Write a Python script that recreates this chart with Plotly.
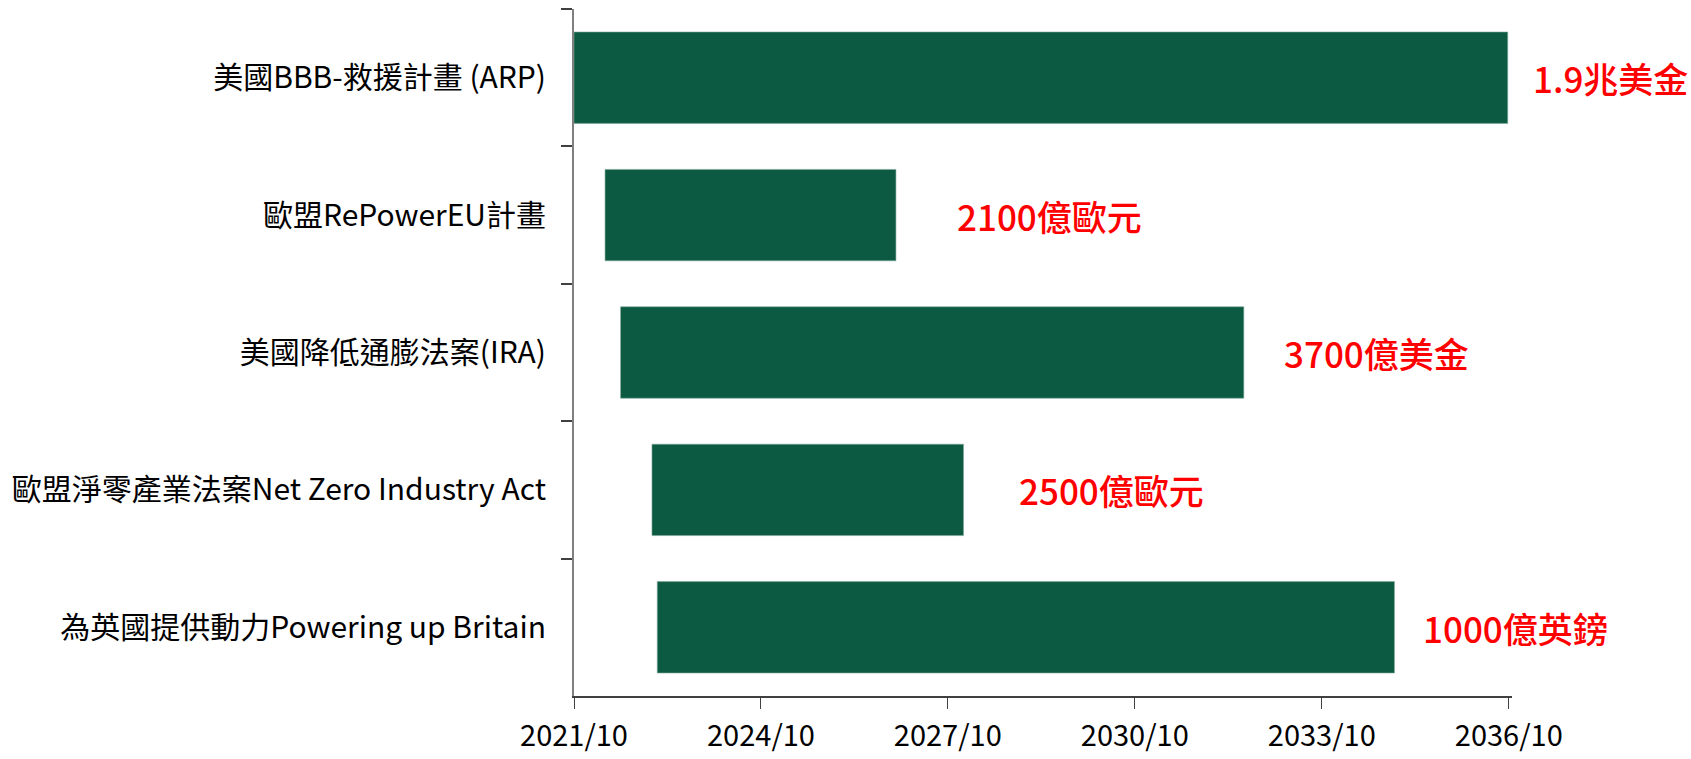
import plotly.graph_objects as go
import pandas as pd

categories = [
    "美國BBB-救援計畫 (ARP)",
    "歐盟RePowerEU計畫",
    "美國降低通膨法案(IRA)",
    "歐盟淨零產業法案Net Zero Industry Act",
    "為英國提供動力Powering up Britain",
]
start_dates = ["2021-10-01", "2022-04-01", "2022-07-01", "2023-01-01", "2023-02-01"]
end_dates = ["2036-09-25", "2026-12-01", "2032-07-01", "2028-01-01", "2034-12-01"]
amount_labels = ["1.9兆美金", "2100億歐元", "3700億美金", "2500億歐元", "1000億英鎊"]

# style: pixel offset of each amount label from its bar end
label_shift = [23, 59, 38, 53, 27]

starts = pd.to_datetime(start_dates)
ends = pd.to_datetime(end_dates)
durations = [(e - s).total_seconds() * 1000 for s, e in zip(starts, ends)]

FONT = "Noto Sans CJK TC"
GREEN = "#0b5a41"

fig = go.Figure()
fig.add_trace(go.Bar(
    y=categories,
    x=durations,
    base=start_dates,
    orientation="h",
    width=0.665,
    marker=dict(color=GREEN, line=dict(color="#7fa898", width=0.6)),
    hoverinfo="skip",
))

for cat, end, lab, sh in zip(categories, end_dates, amount_labels, label_shift):
    fig.add_annotation(
        x=end, y=cat, xref="x", yref="y",
        text=lab, showarrow=False, xanchor="left", yanchor="middle",
        xshift=sh, font=dict(family=FONT, size=35, color="#ff0000", weight=500),
    )

fig.update_layout(
    width=1691, height=759,
    margin=dict(l=574, r=179, t=9, b=63, autoexpand=False),
    paper_bgcolor="white", plot_bgcolor="white",
    showlegend=False,
    bargap=0.335,
    font=dict(family=FONT, size=30, color="#000000"),
)
fig.update_xaxes(
    type="date",
    range=["2021-10-01", "2036-10-20"],
    tick0="2021-10-01", dtick="M36", tickformat="%Y/%m",
    showgrid=False, zeroline=False,
    showline=True, linecolor="#404040", linewidth=1.5,
    ticks="outside", ticklen=11, tickwidth=1.2, tickcolor="#404040",
    tickfont=dict(family=FONT, size=29, color="#000000"),
    ticklabelstandoff=2,
    automargin=False,
)
fig.update_yaxes(
    type="category",
    categoryorder="array", categoryarray=categories,
    autorange="reversed",
    tickson="boundaries",
    showgrid=False, zeroline=False,
    showline=True, linecolor="#7f7f7f", linewidth=2,
    ticks="outside", ticklen=11, tickwidth=1.5, tickcolor="#404040",
    tickfont=dict(family=FONT, size=30, color="#000000"),
    ticklabelstandoff=20,
    automargin=False,
)

fig.write_html("out.html", post_script="document.body.style.margin='0';",
               config={"displayModeBar": False})
